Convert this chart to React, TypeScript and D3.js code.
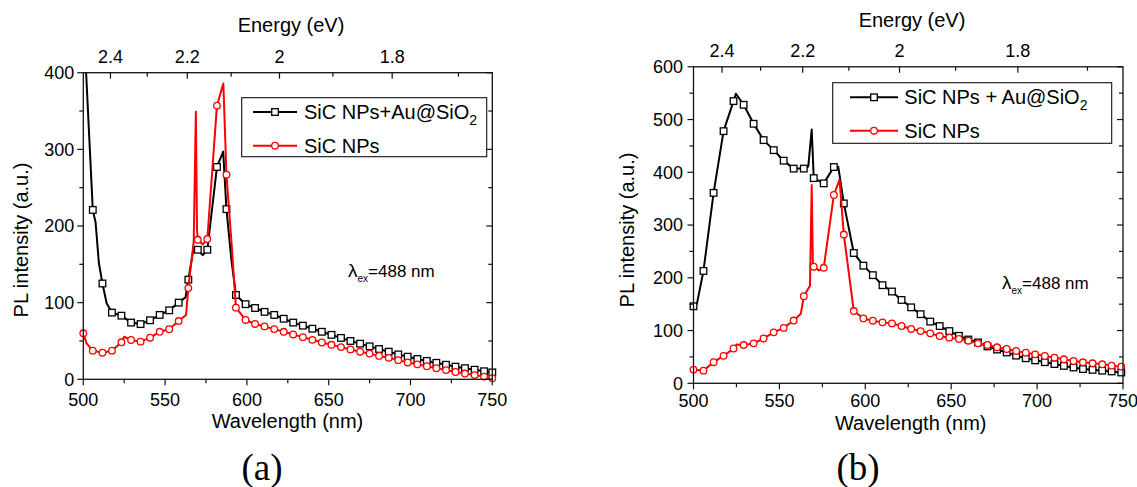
import React from "react";
import * as d3 from "d3";

type Pt = [number, number];
const HC = 1239.84;

// ---------- shared ticks ----------
const wlMajor = [500, 550, 600, 650, 700, 750];
const wlMinor = [525, 575, 625, 675, 725];
const eMajor = [2.4, 2.2, 2.0, 1.8];
const eMajorLabels = ["2.4", "2.2", "2", "1.8"];
const eMinor = [2.3, 2.1, 1.9, 1.7];
const yMajorA = [0, 100, 200, 300, 400];
const yMinorA = [50, 150, 250, 350];
const yMajorB = [0, 100, 200, 300, 400, 500, 600];
const yMinorB = [50, 150, 250, 350, 450, 550];

// ---------- panel (a) ----------
const gridA = [500, 505.8, 511.7, 517.5, 523.3, 529.2, 535, 540.8, 546.7, 552.5, 558.3, 564.2, 570, 575.8, 581.7, 587.5,
  593.3, 599.2, 605, 610.8, 616.7, 622.5, 628.3, 634.2, 640, 645.8, 651.7, 657.5, 663.3, 669.2, 675, 680.8, 686.7,
  692.5, 698.3, 704.2, 710, 715.8, 721.7, 727.5, 733.3, 739.2, 745, 750];
const aAuPL = [475, 221, 125, 87, 83, 74, 72, 77, 84, 90, 100, 130, 169, 169, 277, 222,
  110, 98, 93, 88, 84, 79, 74, 70, 66, 62, 58, 54, 50, 46.5, 43, 39.5, 36,
  32.5, 29.5, 26.5, 24, 21.5, 19, 16.5, 14.5, 12.5, 10.5, 9];
const aAuExtra: Pt[] = [[507.5, 205], [509.5, 152], [514.3, 99], [562.5, 107], [567.5, 172], [573, 162], [585.5, 297], [590.5, 156]];
const aSicPL = [60, 37.4, 34.7, 37.4, 48.3, 51.3, 49.1, 54.3, 62, 65.3, 76, 119, 182, 183, 357, 267,
  93.5, 77.4, 72.2, 69, 65.5, 62, 58.5, 55, 51.5, 48, 45, 42, 39, 36, 33.5, 30.5, 28,
  25, 22, 19.5, 17, 14.5, 12, 9.5, 7.5, 5.5, 3.5, 1.5];
const aSicExtra: Pt[] = [[502, 47], [525, 55.5], [562.8, 84], [567.5, 180], [568.8, 349], [569.5, 195], [573, 176], [585.6, 386], [590.7, 175]];

// ---------- panel (b) ----------
const gridB = [500, 505.8, 511.7, 517.5, 523.3, 529.2, 535, 540.8, 546.7, 552.5, 558.3, 564.2, 570, 575.8, 581.7, 587.5,
  593.3, 598.9, 604.4, 610, 615.5, 621.1, 626.7, 632.2, 637.8, 643.3, 648.9, 654.5, 660, 665.6, 671.1, 676.7,
  682.3, 687.8, 693.4, 698.9, 704.5, 710.1, 715.6, 721.2, 726.7, 732.3, 737.9, 743.4, 749];
const bAuPL = [146, 213, 361, 478, 535, 528, 492, 461, 442, 422, 407, 407, 389, 379, 410, 341,
  247, 223, 205, 186, 174, 158, 144, 131, 117, 108.5, 99, 90, 83, 77.5, 70, 64,
  58.5, 52.5, 47.5, 43.5, 40, 36.5, 33, 30, 27, 25.5, 24, 22.5, 20.5];
const bAuExtra: Pt[] = [[502, 151], [524.7, 549], [566.8, 411], [568.8, 481], [584.3, 410]];
const bSicPL = [26, 24, 40, 52, 66, 72.5, 75.7, 85, 96.6, 105, 119, 165, 221, 219, 357, 282,
  137, 123, 118.7, 115.5, 113.6, 108.6, 103, 99, 94.7, 89.6, 86.5, 84, 80.8, 75.8, 72.6, 68.2,
  65, 61.2, 58, 54.9, 51.8, 48.6, 45.5, 42.3, 39.8, 37.9, 36, 33.5, 31.6];
const bSicExtra: Pt[] = [[525.1, 73.5], [562.5, 132], [567.8, 185], [568.8, 376], [569.5, 225], [573, 214], [585, 386]];

const legendAuA = "SiC NPs+Au@SiO";
const legendAuB = "SiC NPs + Au@SiO";
const legendSic = "SiC NPs";

const FONT = "'Liberation Sans', Arial, Helvetica, sans-serif";

function merge(grid: number[], vals: number[], extra: Pt[]): Pt[] {
  const pts: Pt[] = grid.map((w, i) => [w, vals[i]] as Pt).concat(extra);
  return pts.sort((a, b) => a[0] - b[0]);
}

interface Series { grid: number[]; vals: number[]; extra: Pt[]; color: string; shape: "square" | "circle"; label: string; }
interface Cfg {
  id: string; left: number; right: number; top: number; bottom: number; yMax: number;
  yMajor: number[]; yMinor: number[]; series: Series[];
  energyTitle: [number, number]; topLabelY: number; bottomLabelY: number; xTitle: [number, number];
  yTitle: [number, number]; leftGap: number;
  legend: { x: number; y: number; w: number; h: number; rows: number[]; s0: number; s1: number; tx: number };
  lambda: [number, number]; panelLabel: [number, number, string];
}

function Marker({ shape, cx, cy, color }: { shape: string; cx: number; cy: number; color: string }) {
  if (shape === "square")
    return <rect x={cx - 3.3} y={cy - 3.3} width={6.6} height={6.6} fill="#fff" stroke={color} strokeWidth={1.3} />;
  return <circle cx={cx} cy={cy} r={3.3} fill="#fff" stroke={color} strokeWidth={1.3} />;
}

function Panel({ c }: { c: Cfg }) {
  const x = d3.scaleLinear().domain([500, 750]).range([c.left, c.right]);
  const y = d3.scaleLinear().domain([0, c.yMax]).range([c.bottom, c.top]);
  const line = d3.line<Pt>().x((d) => x(d[0])).y((d) => y(d[1]));
  const clip = `clip-${c.id}`;
  const ax = "#111";
  const L = c.legend;
  return (
    <g>
      <defs>
        <clipPath id={clip}>
          <rect x={c.left} y={c.top} width={c.right - c.left} height={c.bottom - c.top} />
        </clipPath>
      </defs>
      {c.series.map((s, i) => {
        const pts = merge(s.grid, s.vals, s.extra);
        return (
          <g key={i}>
            <path d={line(pts) || ""} fill="none" stroke={s.color} strokeWidth={2} strokeLinejoin="round" clipPath={`url(#${clip})`} />
            {s.grid.map((w, j) =>
              s.vals[j] <= c.yMax && w <= 750 ? (
                <Marker key={j} shape={s.shape} cx={x(w)} cy={y(s.vals[j])} color={s.color} />
              ) : null
            )}
          </g>
        );
      })}
      {/* frame */}
      <rect x={c.left} y={c.top} width={c.right - c.left} height={c.bottom - c.top} fill="none" stroke={ax} strokeWidth={1.3} />
      {/* bottom ticks (out) */}
      {wlMajor.map((w) => (
        <g key={"bm" + w}>
          <line x1={x(w)} x2={x(w)} y1={c.bottom} y2={c.bottom + 6} stroke={ax} strokeWidth={1.2} />
          <text x={x(w)} y={c.bottomLabelY} fontSize={18} textAnchor="middle" fontFamily={FONT}>{w}</text>
        </g>
      ))}
      {wlMinor.map((w) => (
        <line key={"bn" + w} x1={x(w)} x2={x(w)} y1={c.bottom} y2={c.bottom + 4} stroke={ax} strokeWidth={1.2} />
      ))}
      {/* top energy ticks (in) */}
      {eMajor.map((e, i) => (
        <g key={"tm" + e}>
          <line x1={x(HC / e)} x2={x(HC / e)} y1={c.top} y2={c.top + 6} stroke={ax} strokeWidth={1.2} />
          <text x={x(HC / e)} y={c.topLabelY} fontSize={18} textAnchor="middle" fontFamily={FONT}>{eMajorLabels[i]}</text>
        </g>
      ))}
      {eMinor.map((e) => (
        <line key={"tn" + e} x1={x(HC / e)} x2={x(HC / e)} y1={c.top} y2={c.top + 4} stroke={ax} strokeWidth={1.2} />
      ))}
      {/* left ticks (out) and right ticks (in) */}
      {c.yMajor.map((v) => (
        <g key={"lm" + v}>
          <line x1={c.left - 6} x2={c.left} y1={y(v)} y2={y(v)} stroke={ax} strokeWidth={1.2} />
          <line x1={c.right - 6} x2={c.right} y1={y(v)} y2={y(v)} stroke={ax} strokeWidth={1.2} />
          <text x={c.left - c.leftGap} y={y(v) + 6.3} fontSize={18} textAnchor="end" fontFamily={FONT}>{v}</text>
        </g>
      ))}
      {c.yMinor.map((v) => (
        <g key={"ln" + v}>
          <line x1={c.left - 4} x2={c.left} y1={y(v)} y2={y(v)} stroke={ax} strokeWidth={1.2} />
          <line x1={c.right - 4} x2={c.right} y1={y(v)} y2={y(v)} stroke={ax} strokeWidth={1.2} />
        </g>
      ))}
      {/* titles */}
      <text x={c.energyTitle[0]} y={c.energyTitle[1]} fontSize={20} textAnchor="middle" fontFamily={FONT}>Energy (eV)</text>
      <text x={c.xTitle[0]} y={c.xTitle[1]} fontSize={20} textAnchor="middle" fontFamily={FONT}>Wavelength (nm)</text>
      <text transform={`translate(${c.yTitle[0]},${c.yTitle[1]}) rotate(-90)`} fontSize={20} textAnchor="middle" fontFamily={FONT}>PL intensity (a.u.)</text>
      {/* legend */}
      <rect x={L.x} y={L.y} width={L.w} height={L.h} fill="#fff" stroke={ax} strokeWidth={1.1} />
      {c.series.map((s, i) => (
        <g key={"lg" + i}>
          <line x1={L.s0} x2={L.s1} y1={L.rows[i]} y2={L.rows[i]} stroke={s.color} strokeWidth={2} />
          <Marker shape={s.shape} cx={(L.s0 + L.s1) / 2} cy={L.rows[i]} color={s.color} />
          <text x={L.tx} y={L.rows[i] + 7} fontSize={20} fontFamily={FONT}>
            {s.label}
            {i === 0 ? <tspan fontSize={14} dy={6}>2</tspan> : null}
          </text>
        </g>
      ))}
      {/* lambda annotation */}
      <text x={c.lambda[0]} y={c.lambda[1]} fontFamily={FONT}>
        <tspan fontSize={19}>λ</tspan>
        <tspan fontSize={10} dy={5}>ex</tspan>
        <tspan fontSize={17} dy={-5}>=488 nm</tspan>
      </text>
      <text x={c.panelLabel[0]} y={c.panelLabel[1]} fontSize={37} textAnchor="middle" fontFamily="'Liberation Serif', 'Times New Roman', serif">{c.panelLabel[2]}</text>
    </g>
  );
}

const cfgA: Cfg = {
  id: "a", left: 83.3, right: 492.3, top: 72.7, bottom: 379.3, yMax: 400, yMajor: yMajorA, yMinor: yMinorA,
  series: [
    { grid: gridA, vals: aAuPL, extra: aAuExtra, color: "#000", shape: "square", label: legendAuA },
    { grid: gridA, vals: aSicPL, extra: aSicExtra, color: "#ff0000", shape: "circle", label: legendSic },
  ],
  energyTitle: [291, 32], topLabelY: 63.3, bottomLabelY: 405.5, xTitle: [287.5, 427.5], yTitle: [28, 240], leftGap: 9,
  legend: { x: 241.7, y: 97.7, w: 245, h: 59, rows: [112, 145.7], s0: 253, s1: 297, tx: 304 },
  lambda: [348, 277], panelLabel: [262, 480, "(a)"],
};

const cfgB: Cfg = {
  id: "b", left: 693.5, right: 1123, top: 66.8, bottom: 383.3, yMax: 600, yMajor: yMajorB, yMinor: yMinorB,
  series: [
    { grid: gridB, vals: bAuPL, extra: bAuExtra, color: "#000", shape: "square", label: legendAuB },
    { grid: gridB, vals: bSicPL, extra: bSicExtra, color: "#ff0000", shape: "circle", label: legendSic },
  ],
  energyTitle: [912, 26.5], topLabelY: 56.7, bottomLabelY: 406.5, xTitle: [910.7, 429.5], yTitle: [634, 230], leftGap: 10.5,
  legend: { x: 832.7, y: 82.7, w: 279, h: 60.6, rows: [97.3, 130.7], s0: 850, s1: 898, tx: 904.3 },
  lambda: [1002, 289], panelLabel: [858, 480, "(b)"],
};

export default function App() {
  return (
    <svg width={1137} height={487} style={{ position: "absolute", left: 0, top: 0, background: "#fff" }}>
      <rect x={0} y={0} width={1137} height={487} fill="#fff" />
      <Panel c={cfgA} />
      <Panel c={cfgB} />
    </svg>
  );
}
